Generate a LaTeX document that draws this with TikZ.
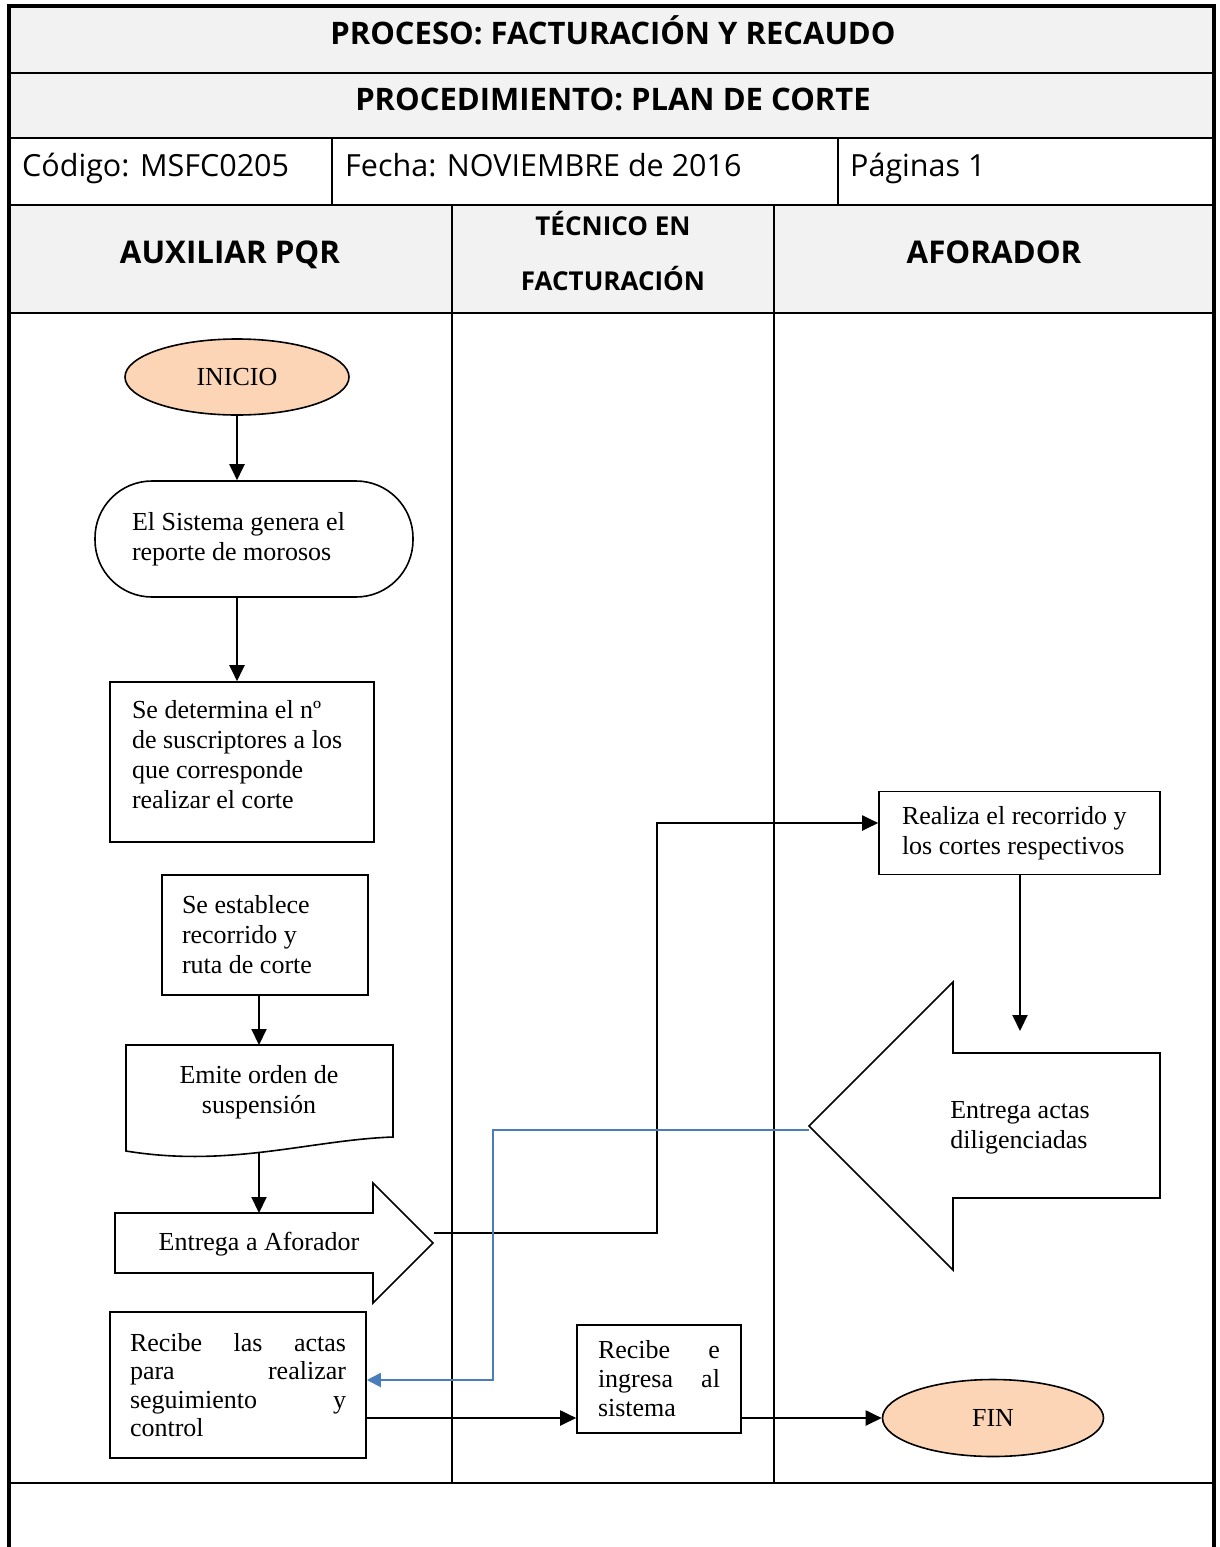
\documentclass[tikz,border=0pt]{standalone}
\usepackage{fontspec}
\setmainfont{Liberation Serif}
\newfontfamily\headfont{Open Sans}
\usetikzlibrary{shapes.geometric,arrows.meta}
\definecolor{headgray}{HTML}{F2F2F2}
\definecolor{peach}{HTML}{FBD5B5}
\definecolor{linkblue}{HTML}{4A7EBB}
% restore the font's own (stretchable) interword space inside aligned nodes
\newcommand\natsp{\spaceskip=0pt\xspaceskip=0pt\relax}
\begin{document}
\begin{tikzpicture}[x=1pt,y=-1pt,
  rule/.style={line width=2pt},
  outer/.style={line width=4pt},
  title/.style={font=\headfont\bfseries\fontsize{31}{36}\selectfont, anchor=base, inner sep=0pt},
  meta/.style={font=\headfont\fontsize{30.5}{36}\selectfont, anchor=base west, inner sep=0pt},
  lane/.style={font=\headfont\bfseries\fontsize{31.3}{36}\selectfont, anchor=base, inner sep=0pt},
  lanesmall/.style={font=\headfont\bfseries\fontsize{26}{30}\selectfont, anchor=base, inner sep=0pt},
  body/.style={font=\fontsize{26}{30}\selectfont, inner sep=0pt},
  box/.style={body, draw, fill=white, line width=1.6pt},
  term/.style={box, ellipse, fill=peach},
  shapeline/.style={line width=1.6pt, fill=white},
  conn/.style={line width=2pt, -{Triangle[width=15pt,length=16pt]}},
  back/.style={line width=2pt, draw=linkblue, -{Triangle[width=14pt,length=14pt]}},
]
\useasboundingbox (0,0) rectangle (1220,1547);

% header bands
\fill[headgray] (9,6) rectangle (1214,138);
\fill[headgray] (9,205) rectangle (1214,313);

% table rules
\draw[rule] (9,73) -- (1214,73);
\draw[rule] (9,138) -- (1214,138);
\draw[rule] (9,205) -- (1214,205);
\draw[rule] (9,313) -- (1214,313);
\draw[rule] (332,138) -- (332,205);
\draw[rule] (838,138) -- (838,205);
\draw[rule] (452,205) -- (452,1483);
\draw[rule] (774,205) -- (774,1483);
\draw[rule] (9,1483) -- (1214,1483);
\draw[outer] (9,1547) -- (9,6) -- (1214,6) -- (1214,1547);

% header texts
\node[title] (proceso) at (613,44) {PROCESO: FACTURACIÓN Y RECAUDO};
\node[title] (procedimiento) at (613,110) {PROCEDIMIENTO: PLAN DE CORTE};
\node[meta] (codigo) at (22,176) {Código: MSFC0205};
\node[meta] (fecha) at (345,176) {Fecha: NOVIEMBRE de 2016};
\node[meta] (paginas) at (850,176) {Páginas 1};
\node[lane] (auxiliar) at (230,263) {AUXILIAR PQR};
\node[lanesmall] (tecnico) at (613,235) {TÉCNICO EN};
\node[lanesmall] (facturacion) at (613,290) {FACTURACIÓN};
\node[lane] (aforador) at (994,263) {AFORADOR};

% flow: Auxiliar PQR lane
\node[term, minimum width=224pt, minimum height=76pt] (inicio) at (237,377) {INICIO};
\node[box, rounded corners=57pt, minimum width=318pt, minimum height=116pt,
      text width=244pt, align=left] (sistema) at (254,539)
      {\natsp El Sistema genera el\\reporte de morosos};
\node[box, minimum width=264pt, minimum height=160pt] (determina) at (242,762)
      {\parbox[c][124pt][t]{220pt}{\raggedright Se determina el nº\\de suscriptores a los\\que corresponde\\realizar el corte}};
\node[box, minimum width=206pt, minimum height=120pt, text width=166pt, align=left]
      (establece) at (265,935) {\natsp Se establece\\recorrido y\\ruta de corte};

% document shape
\draw[shapeline] (126,1045) -- (393,1045) -- (393,1137)
      .. controls (310,1140) and (230,1168) .. (126,1151) -- cycle;
\node[body, align=center] (emite) at (259,1092) {\natsp Emite orden de\\suspensión};
\coordinate (emitetop) at (259,1045);
\coordinate (emitebot) at (259,1153);

% right block arrow
\draw[shapeline] (115,1213) -- (373,1213) -- (373,1183) -- (433,1243)
      -- (373,1303) -- (373,1273) -- (115,1273) -- cycle;
\node[body] (entrega) at (259,1244) {Entrega a Aforador};
\coordinate (entregatop) at (259,1213);
\coordinate (entregaout) at (434,1233);

\node[box, minimum width=256pt, minimum height=146pt, text width=216pt, align=left,
      font=\fontsize{26}{28.5}\selectfont] (recibe) at (238,1385)
      {\natsp\makebox[216pt][s]{Recibe las actas}\\\makebox[216pt][s]{para realizar}\\\makebox[216pt][s]{seguimiento y}\\control};

% Tecnico lane
\node[box, minimum width=164pt, minimum height=108pt, text width=122pt, align=left,
      font=\fontsize{26}{29}\selectfont] (ingresa) at (659,1379)
      {\natsp\makebox[122pt][s]{Recibe e}\\\makebox[122pt][s]{ingresa al}\\sistema};

% Aforador lane
\node[box, minimum width=281pt, minimum height=83pt, text width=235pt, align=left]
      (realiza) at (1019.5,833) {\natsp Realiza el recorrido y\\los cortes respectivos};

% left block arrow
\draw[shapeline] (809,1126) -- (953,982) -- (953,1053) -- (1160,1053)
      -- (1160,1198) -- (953,1198) -- (953,1270) -- cycle;
\node[body, align=left] (actas) at (1020,1128) {\natsp Entrega actas\\diligenciadas};
\coordinate (actastip) at (809,1130);
\coordinate (actasin) at (1020,1031);

\node[term, minimum width=221pt, minimum height=77pt] (fin) at (993,1418) {FIN};

% connectors
\draw[conn] (inicio.south) -- (inicio.south |- sistema.north);
\draw[conn] (inicio.south |- sistema.south) -- (inicio.south |- determina.north);
\draw[conn] (emitetop |- establece.south) -- (emitetop);
\draw[conn] (emitebot) -- (entregatop);
\draw[conn] (entregaout) -- (657,1233) -- (657,823) -- (realiza.west |- 0,823);
\draw[conn] (realiza.south -| actasin) -- (actasin);
\draw[back] (actastip) -- (493,1130) -- (493,1380) -- (recibe.east |- 0,1380);
\draw[conn] (recibe.east |- fin) -- (ingresa.west |- fin);
\draw[conn] (ingresa.east |- fin) -- (fin.west);
\end{tikzpicture}
\end{document}
